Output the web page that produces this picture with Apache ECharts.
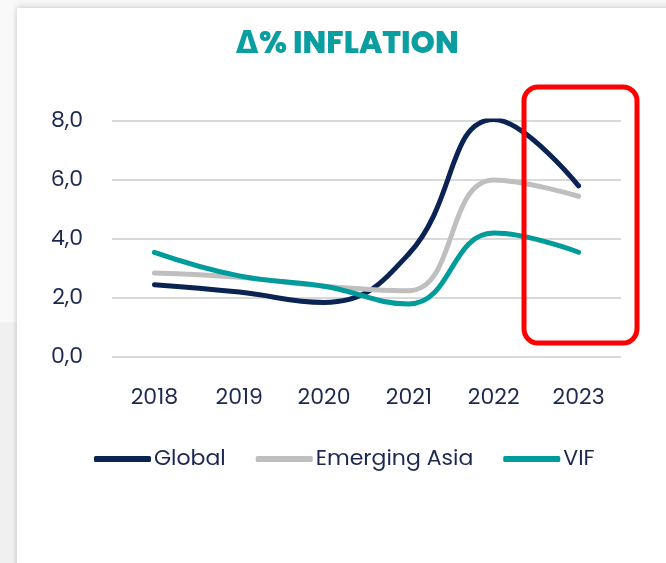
<!DOCTYPE html>
<html>
<head>
<meta charset="utf-8">
<script src="https://cdn.jsdelivr.net/npm/echarts@6/dist/echarts.min.js"></script>
<style>
  html, body { margin: 0; padding: 0; }
  body { width: 666px; height: 563px; background: #f0f0f0; position: relative; overflow: hidden; }
  .topband { position: absolute; left: 0; top: 0; width: 666px; height: 322px; background: #f9f9f9; }
  .card { position: absolute; left: 17px; top: 8px; width: 660px; height: 570px; background: #fff;
          box-shadow: 0 -3px 6px rgba(0,0,0,0.10), -2px 0 3px rgba(0,0,0,0.06); }
  #chart { position: absolute; left: 0; top: 0; width: 666px; height: 563px; }
</style>
</head>
<body>
<div class="topband"></div>
<div class="card"></div>
<div id="chart"></div>
<script>
const years = ['2018', '2019', '2020', '2021', '2022', '2023'];
const globalVals = [2.45, 2.2, 1.85, 3.5, 8.05, 5.8];
const asiaVals = [2.85, 2.7, 2.4, 2.25, 6.0, 5.45];
const vifVals = [3.55, 2.75, 2.4, 1.8, 4.2, 3.55];
const yTicks = [0, 2, 4, 6, 8];

const textColor = '#1c2850';
const font = 'Poppins, Inter, "Noto Sans", sans-serif';

var myChart = echarts.init(document.getElementById('chart'));
var option = {
    backgroundColor: 'transparent',
    animation: false,
    legend: {
        left: 89,
        top: 443,
        itemWidth: 57,
        itemHeight: 6,
        itemGap: 30,
        icon: 'roundRect',
        textStyle: { color: textColor, fontSize: 22, fontFamily: font, padding: [0, 0, 0, -2] },
        data: ['Global', 'Emerging Asia', 'VIF']
    },
    grid: { left: 112, right: 45, top: 121, bottom: 206 },
    xAxis: {
        type: 'category',
        data: years,
        axisLine: { show: false },
        axisTick: { show: false },
        axisLabel: { color: textColor, fontSize: 22, fontFamily: font, margin: 30 }
    },
    yAxis: {
        type: 'value',
        min: yTicks[0],
        max: yTicks[yTicks.length - 1],
        interval: 2,
        axisLabel: {
            color: textColor, fontSize: 22, fontFamily: font, margin: 29,
            formatter: v => v.toFixed(1).replace('.', ',')
        },
        splitLine: { lineStyle: { color: '#d9d9d9', width: 2 } }
    },
    series: [
        {
            name: 'Global', type: 'line', smooth: 0.45, symbol: 'none', data: globalVals,
            itemStyle: { color: '#0a2352' },
            lineStyle: { color: '#0a2352', width: 5, cap: 'round' }
        },
        {
            name: 'Emerging Asia', type: 'line', smooth: 0.45, symbol: 'none', data: asiaVals,
            itemStyle: { color: '#bfbfbf' },
            lineStyle: { color: '#bfbfbf', width: 5, cap: 'round' }
        },
        {
            name: 'VIF', type: 'line', smooth: 0.45, symbol: 'none', data: vifVals,
            itemStyle: { color: '#009c9c' },
            lineStyle: { color: '#009c9c', width: 5, cap: 'round' }
        }
    ],
    graphic: [
        {
            type: 'text',
            x: 347, y: 30,
            style: {
                text: 'Δ% INFLATION', align: 'center', verticalAlign: 'top',
                fill: '#0a9ea0', fontSize: 31, fontWeight: 800, fontFamily: font
            }
        },
        {
            type: 'rect',
            shape: { x: 524, y: 87, width: 113, height: 256, r: 14 },
            style: { fill: 'none', stroke: '#ff0000', lineWidth: 5 },
            z: 10
        }
    ]
};
option && myChart.setOption(option);
</script>
</body>
</html>
